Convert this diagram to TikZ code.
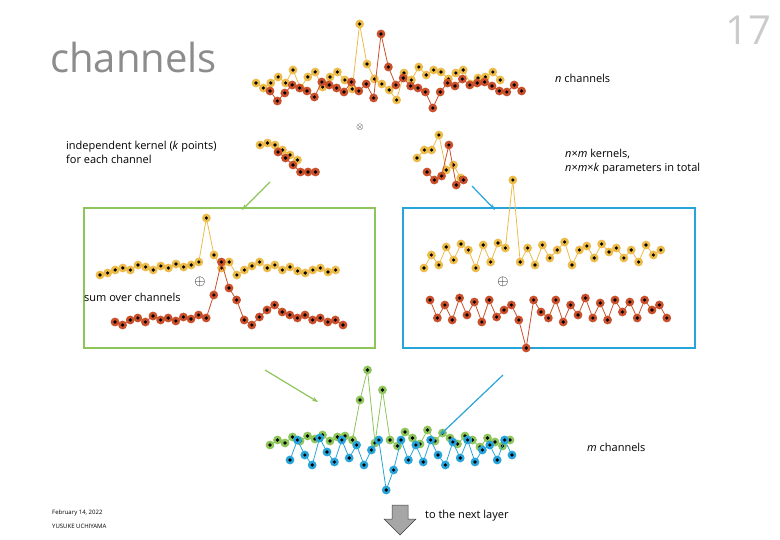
\documentclass[tikz,border=0pt]{standalone}
\usepackage{fontspec}
\setmainfont{Open Sans}
\usetikzlibrary{arrows.meta}
\definecolor{cy}{HTML}{EDBB4A}
\definecolor{cr}{HTML}{C9502B}
\definecolor{cg}{HTML}{8DC55A}
\definecolor{cb}{HTML}{27A5DA}
\definecolor{tg}{HTML}{8C8C8C}
\newcommand{\myseries}[4]{%
 \foreach \yy [count=\i, remember=\yy as \yp (initially 0)] in {#4}{%
   \ifnum\i>1 \draw[#3,line width=0.8pt] ({#1+(\i-2)*#2},\yp) -- ({#1+(\i-1)*#2},\yy);\fi}%
 \foreach \yy [count=\i] in {#4}{%
   \fill[#3] ({#1+(\i-1)*#2},\yy) circle (4.4);
   \fill[black] ({#1+(\i-1)*#2},\yy) circle (1.8);}}
\tikzset{lbl/.style={font=\fontsize{11}{13.5}\selectfont,inner sep=0,anchor=west},
 arr/.style={-{Stealth[length=6pt]},line width=1.2pt}}
\begin{document}
\begin{tikzpicture}[x=1pt,y=-1pt]
\useasboundingbox (0,0) rectangle (780,540);
\node[lbl,font=\fontsize{40}{44}\selectfont,text=tg] (t) at (50,58) {channels};
\node[font=\fontsize{40}{44}\selectfont,text=tg!45,inner sep=0] (n17) at (748,30) {17};
% top series
\myseries{256}{7.4}{cy}{83,88,83,77,83,70,88,77,72,87,77,72,80,89,24,64,79,84,90,100,73,80,67,75,70,72,79,73,70,84,78,77,72,80}
\myseries{270}{7.4}{cr}{91,101,93,85,88,91,97,82,85,88,92,82,91,84,98,34,67,85,78,86,88,92,108,92,83,86,79,85,83,82,86,91,92,85,91}
\node[lbl] (nch) at (555,78) {\textit{n} channels};
\node[inner sep=0,font=\fontsize{9}{10}\selectfont] (ot) at (360,127) {$\otimes$};
% kernels
\myseries{260}{7.5}{cy}{145,143,145,150,155,160}
\myseries{278}{7.5}{cr}{152,158,165,172,172,172}
\myseries{417}{7.3}{cy}{158,150,150,135,170,165,178}
\myseries{427}{7.3}{cr}{172,180,176,145,185,180}
\node[lbl,align=left,anchor=north west] (k1) at (66,141) {independent kernel (\textit{k} points)\\for each channel};
\node[lbl,align=left,anchor=north west] (k2) at (565,149) {\textit{n}×\textit{m} kernels,\\\textit{n}×\textit{m}×\textit{k} parameters in total};
% boxes
\draw[cg,line width=1.2pt] (84,208) rectangle (375,348);
\draw[cb,line width=1.2pt] (403,208) rectangle (695,348);
\myseries{100}{7.6}{cy}{275,273,270,268,270,265,267,270,266,268,264,267,265,262,218,255,268,262,275,270,266,262,268,265,270,267,271,273,270,268,272,270}
\myseries{115}{7.6}{cr}{322,325,320,318,322,316,320,318,321,317,319,315,318,295,262,288,300,320,325,317,310,305,312,315,318,315,320,318,322,320,325}
\myseries{424}{7.4}{cy}{268,255,265,247,260,244,250,268,245,262,243,248,180,262,248,265,245,258,250,242,265,250,246,258,244,252,248,258,250,262,245,255,250}
\myseries{430}{7.4}{cr}{300,318,305,320,298,315,302,322,300,317,310,305,320,348,300,312,318,300,322,305,315,298,318,303,320,300,312,302,318,300,310,305,318}
\node[inner sep=0,font=\fontsize{14}{14}\selectfont] (p1) at (200,282) {$\oplus$};
\node[inner sep=0,font=\fontsize{14}{14}\selectfont] (p2) at (503,282) {$\oplus$};
\node[lbl] (sum) at (84,297) {sum over channels};
% bottom
\myseries{270}{7.5}{cg}{445,440,443,437,441,436,439,435,441,437,436,440,400,370,443,390,440,446,432,438,444,430,441,433,438,444,436,440,447,438,442,446,440}
\myseries{290}{7.4}{cb}{460,440,455,465,438,452,462,440,458,445,465,450,440,490,470,440,460,445,462,440,455,465,442,458,440,462,450,445,460,440,455}
\node[lbl] (mch) at (587,447) {\textit{m} channels};
% arrows
\coordinate (a1) at (270,182); \coordinate (a2) at (242,210);
\coordinate (b1) at (472,186); \coordinate (b2) at (495,210);
\coordinate (c1) at (265,370); \coordinate (c2) at (318,402);
\coordinate (d1) at (503,375); \coordinate (d2) at (440,435);
\draw[arr,cg] (a1) -- (a2);
\draw[arr,cb] (b1) -- (b2);
\draw[arr,cg] (c1) -- (c2);
\draw[arr,cb] (d1) -- (d2);
\fill[gray!70,draw=gray!50!black,line width=0.5pt] (392,505) -- (408,505) -- (408,519) -- (416,519) -- (400,535) -- (384,519) -- (392,519) -- cycle;
\node[lbl] (nx) at (425,516) {to the next layer};
\node[lbl,font=\fontsize{6}{7}\selectfont] (d) at (52,513) {February 14, 2022};
\node[lbl,font=\fontsize{6}{7}\selectfont] (y) at (52,526) {YUSUKE UCHIYAMA};
\end{tikzpicture}
\end{document}
